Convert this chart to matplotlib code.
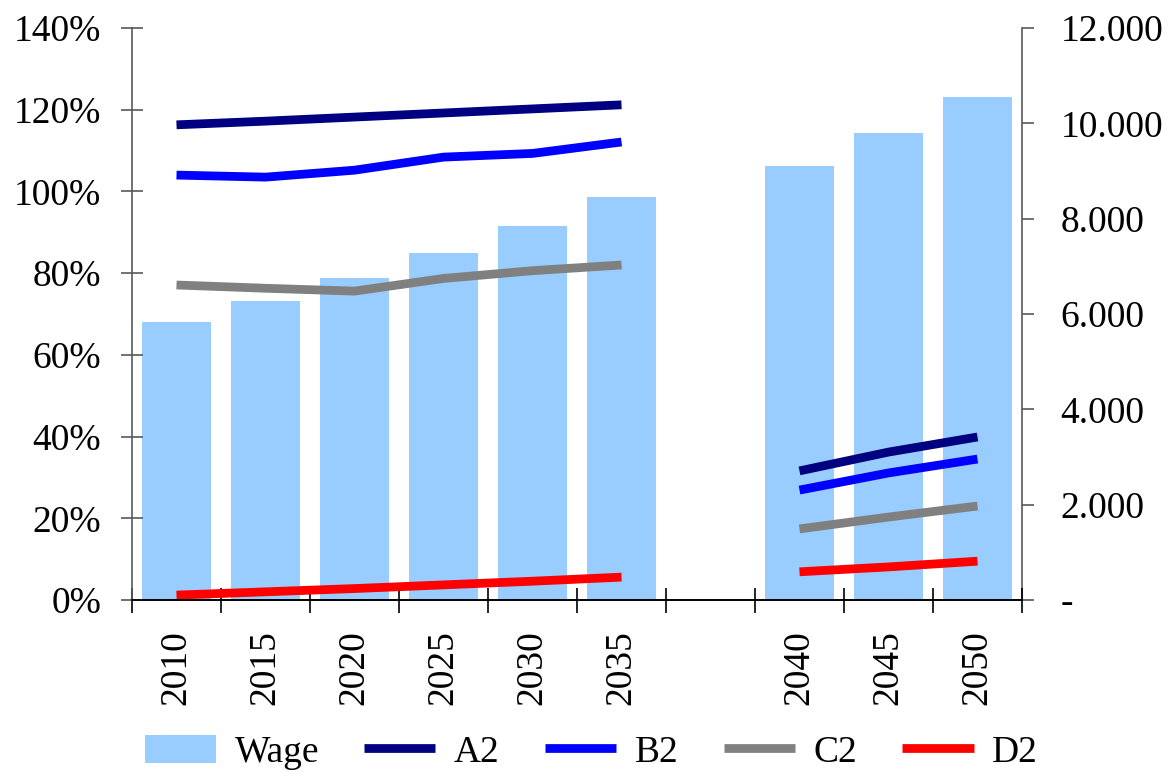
import numpy as np
import matplotlib
matplotlib.use("Agg")
import matplotlib.pyplot as plt
from matplotlib.ticker import FuncFormatter, FixedLocator

# data
years = ['2010', '2015', '2020', '2025', '2030', '2035', '', '2040', '2045', '2050']
wage = [5830, 6270, 6760, 7280, 7850, 8460, np.nan, 9100, 9800, 10550]
a2 = [116.3, 117.2, 118.2, 119.2, 120.2, 121.2, np.nan, 31.6, 36.2, 39.9]
b2 = [104.0, 103.5, 105.2, 108.4, 109.3, 112.1, np.nan, 26.9, 31.1, 34.5]
c2 = [77.1, 76.3, 75.6, 78.7, 80.6, 82.0, np.nan, 17.4, 20.3, 23.0]
d2 = [1.2, 2.0, 2.8, 3.7, 4.6, 5.6, np.nan, 6.9, 8.1, 9.5]

plt.rcParams['font.family'] = ['Liberation Serif', 'DejaVu Serif']
plt.rcParams['font.size'] = 27

fig = plt.figure(figsize=(11.71, 7.73), dpi=100)
ax = fig.add_axes([132/1171, 1-600/773, (1022-132)/1171, (600-28)/773])
ax2 = ax.twinx()

x = np.arange(len(years))
ax2.bar(x, wage, width=0.78, color='#99CCFF', label='Wage')
ax.plot(x, a2, color='#000080', lw=6.3, solid_capstyle='butt', label='A2')
ax.plot(x, b2, color='#0000FF', lw=6.3, solid_capstyle='butt', label='B2')
ax.plot(x, c2, color='#808080', lw=6.3, solid_capstyle='butt', label='C2')
ax.plot(x, d2, color='#FF0000', lw=6.3, solid_capstyle='butt', label='D2')

ax.set_zorder(ax2.get_zorder() + 1)
ax.patch.set_visible(False)

ax.set_xlim(-0.5, len(years) - 0.5)
ax.set_ylim(0, 140)
ax2.set_ylim(0, 12000)

ax.set_yticks(np.arange(0, 141, 20))
ax.yaxis.set_major_formatter(FuncFormatter(lambda v, p: f'{v:.0f}%'))
ax2.set_yticks(np.arange(0, 12001, 2000))
ax2.yaxis.set_major_formatter(FuncFormatter(
    lambda v, p: '-' if v == 0 else f'{v:,.0f}'.replace(',', '.')))

# category labels at centres, tick marks at boundaries
ax.set_xticks(x)
ax.set_xticklabels(years, rotation=90)
ax.xaxis.set_minor_locator(FixedLocator(np.arange(-0.5, len(years), 1)))
ax.tick_params(axis='x', which='major', length=0, pad=22)
ax.tick_params(axis='x', which='minor', direction='inout', length=18, color='black', width=1.2)
ax.tick_params(axis='y', direction='inout', length=16.5, color='#595959', width=1.2, pad=14)
ax2.tick_params(axis='y', direction='out', length=8.6, color='#595959', width=1.2, pad=19)

for a in (ax, ax2):
    a.spines['top'].set_visible(False)
    a.spines['left'].set_color('#595959')
    a.spines['right'].set_color('#595959')
    a.spines['bottom'].set_color('black')
    for s in a.spines.values():
        s.set_linewidth(1.2)
ax2.spines['left'].set_visible(False)
ax.spines['right'].set_visible(False)

h1, l1 = ax2.get_legend_handles_labels()
h2, l2 = ax.get_legend_handles_labels()
fig.legend(h1 + h2, l1 + l2, loc='lower center', bbox_to_anchor=(0.505, -0.04),
           ncol=5, frameon=False, handlelength=1.9, handleheight=0.8,
           handletextpad=0.5, columnspacing=1.2, fontsize=27)

fig.savefig('out.png', dpi=100)
